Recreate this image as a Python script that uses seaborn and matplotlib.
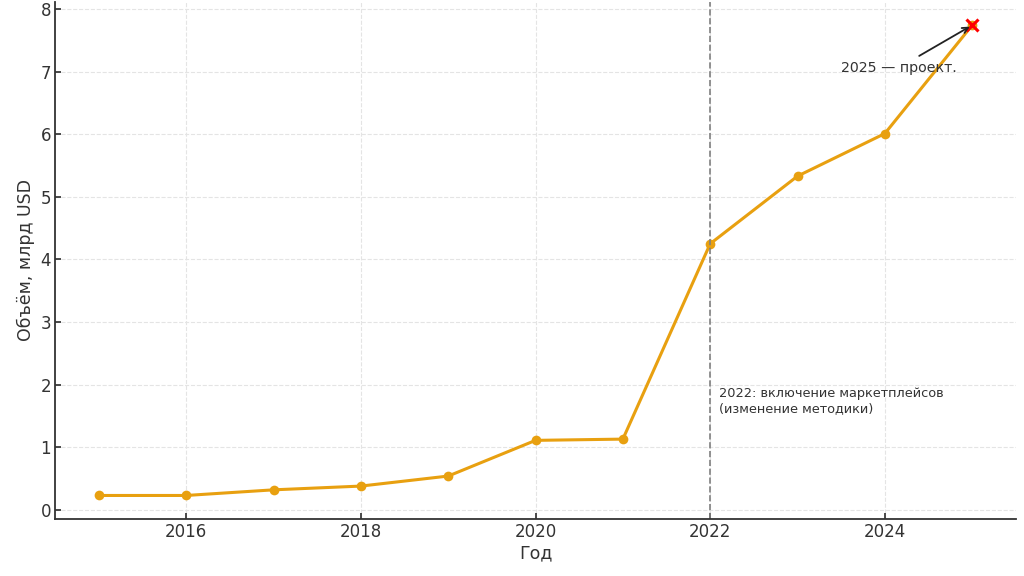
import numpy as np
import pandas as pd
import seaborn as sns
import matplotlib.pyplot as plt

# Data
years = [2015, 2016, 2017, 2018, 2019, 2020, 2021, 2022, 2023, 2024, 2025]
volume = [0.23, 0.23, 0.32, 0.38, 0.54, 1.11, 1.13, 4.25, 5.33, 6.01, 7.74]
method_change_year = 2022
method_note = "2022: включение маркетплейсов\n(изменение методики)"
forecast_note = "2025 — проект."

sns.set_theme(style="whitegrid")
plt.rcParams['font.family'] = ['DejaVu Sans']

df = pd.DataFrame({'year': years, 'volume': volume})

fig, ax = plt.subplots(figsize=(10.24, 5.76), dpi=100)
fig.subplots_adjust(left=0.054, right=0.992, bottom=0.099, top=0.997)

sns.lineplot(data=df, x='year', y='volume', ax=ax, color='#E8A010',
             linewidth=2.2, marker='o', markersize=7, markeredgewidth=0)
ax.plot(years[-1], volume[-1], marker='x', color='red', markersize=8, markeredgewidth=2.2)

ax.axvline(method_change_year, color='gray', linestyle='--', linewidth=1.2)
ax.text(method_change_year + 0.1, 1.97, method_note, fontsize=9.3, color='#333333',
        va='top', ha='left', linespacing=1.3)
ax.annotate(forecast_note, xy=(years[-1], volume[-1]), xytext=(2023.5, 7.0),
            fontsize=10.2, color='#333333',
            arrowprops=dict(arrowstyle='->', color='#222222', lw=1.3))

ax.set_xlabel("Год", fontsize=12.5, color='#333333', labelpad=2)
ax.set_ylabel("Объём, млрд USD", fontsize=12.5, color='#333333', labelpad=4)
ax.tick_params(labelsize=12, colors='#333333', length=4, direction='in',
               left=True, bottom=True, pad=3)
ax.grid(True, linestyle='--', color='#e4e4e4', linewidth=0.8)
sns.despine(ax=ax)
for side in ['left', 'bottom']:
    ax.spines[side].set_color('#333333')
    ax.spines[side].set_linewidth(1.3)

fig.savefig('out.png', dpi=100)
